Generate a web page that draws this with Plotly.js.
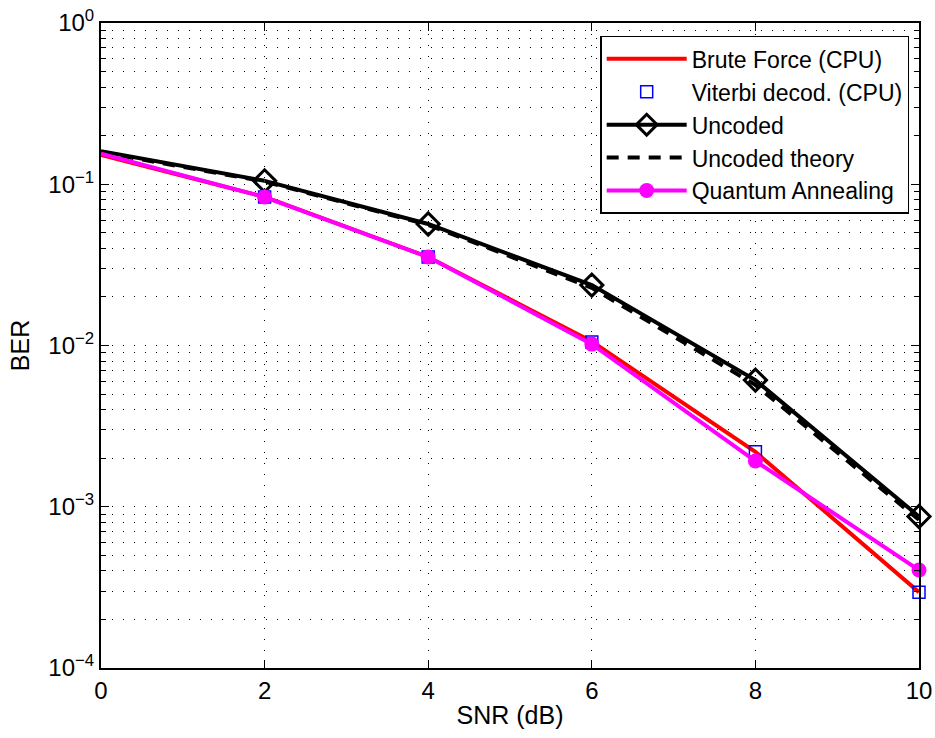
<!DOCTYPE html>
<html>
<head>
<meta charset="utf-8">
<script src="https://cdn.plot.ly/plotly-3.0.1.min.js"></script>
<style>html,body{margin:0;padding:0;background:#fff;}#chart{width:935px;height:738px;}</style>
</head>
<body>
<div id="chart"></div>
<script>
const snr = [0, 2, 4, 6, 8, 10];
const bruteForce = [0.152, 0.0834, 0.0354, 0.0106, 0.00219, 0.000295];
const viterbi = [0.152, 0.0834, 0.0354, 0.0105, 0.00219, 0.000295];
const uncoded = [0.160, 0.105, 0.0567, 0.0237, 0.0061, 0.00087];
const uncodedTheory = [0.158, 0.104, 0.0560, 0.0228, 0.0057, 0.00083];
const quantum = [0.155, 0.0833, 0.0354, 0.0102, 0.00192, 0.000405];
const yTickVals = [1, 0.1, 0.01, 0.001, 0.0001];
const yTickText = ['10<sup>0</sup>', '10<sup>\u22121</sup>', '10<sup>\u22122</sup>', '10<sup>\u22123</sup>', '10<sup>\u22124</sup>'];
const xTickVals = [0, 2, 4, 6, 8, 10];

const font = 'Liberation Sans, Arial, Helvetica, sans-serif';

const blackLine = {color: '#000000', width: 4};
const magentaLine = {color: '#ff00ff', width: 4};

const traces = [
  {x: snr, y: bruteForce, name: 'Brute Force (CPU)', mode: 'lines',
   line: {color: '#ff0000', width: 4}},
  {x: snr.slice(1), y: viterbi.slice(1), name: 'Viterbi decod. (CPU)', mode: 'markers',
   marker: {symbol: 'square-open', size: 12, color: '#0000ff', line: {width: 1.5, color: '#0000ff'}}},
  // first segment of Uncoded (no marker at the left edge in the reference)
  {x: snr.slice(0, 2), y: uncoded.slice(0, 2), mode: 'lines', showlegend: false, line: blackLine},
  {x: snr.slice(1), y: uncoded.slice(1), name: 'Uncoded', mode: 'lines+markers',
   line: blackLine,
   marker: {symbol: 'diamond-open', size: 17, color: '#000000', line: {width: 3, color: '#000000'}}},
  {x: snr, y: uncodedTheory, name: 'Uncoded theory', mode: 'lines',
   line: {color: '#000000', width: 4, dash: '12px,9px'}},
  {x: snr.slice(0, 2), y: quantum.slice(0, 2), mode: 'lines', showlegend: false, line: magentaLine},
  {x: snr.slice(1), y: quantum.slice(1), name: 'Quantum Annealing', mode: 'lines+markers',
   line: magentaLine,
   marker: {symbol: 'circle', size: 15, color: '#ff00ff'}}
].map(t => Object.assign({cliponaxis: false}, t));

const gridDash = '1px,10px';
const layout = {
  width: 935, height: 738,
  margin: {l: 101, r: 16, t: 23, b: 70},
  paper_bgcolor: '#ffffff', plot_bgcolor: '#ffffff',
  font: {family: font, size: 24, color: '#000'},
  showlegend: true,
  legend: {
    x: 0.988, y: 0.98, xanchor: 'right', yanchor: 'top',
    bgcolor: '#ffffff', bordercolor: '#000000', borderwidth: 1.5,
    font: {family: font, size: 23, color: '#000'},
    tracegroupgap: 0, itemwidth: 80
  },
  xaxis: {
    range: [0, 10], tickvals: xTickVals, ticktext: xTickVals.map(String),
    ticks: 'inside', ticklen: 8, tickwidth: 1, tickcolor: '#000',
    showline: true, linecolor: '#000', linewidth: 2, mirror: 'ticks',
    showgrid: true, gridcolor: '#000', gridwidth: 1, griddash: gridDash,
    zeroline: false,
    tickfont: {family: font, size: 24, color: '#000'},
    title: {text: 'SNR (dB)', font: {family: font, size: 25, color: '#000'}, standoff: 4}
  },
  yaxis: {
    type: 'log', range: [-4, 0],
    tickvals: yTickVals, ticktext: yTickText,
    ticks: 'inside', ticklen: 8, tickwidth: 1, tickcolor: '#000',
    showline: true, linecolor: '#000', linewidth: 2, mirror: 'ticks',
    showgrid: true, gridcolor: '#000', gridwidth: 1, griddash: gridDash,
    zeroline: false,
    minor: {dtick: 'D1', ticks: 'inside', ticklen: 5, tickcolor: '#000',
            showgrid: true, gridcolor: '#000', gridwidth: 1, griddash: gridDash},
    tickfont: {family: font, size: 24, color: '#000'},
    title: {text: 'BER', font: {family: font, size: 25, color: '#000'}, standoff: 12}
  }
};

Plotly.newPlot('chart', traces, layout, {displayModeBar: false, staticPlot: true});
</script>
</body>
</html>
